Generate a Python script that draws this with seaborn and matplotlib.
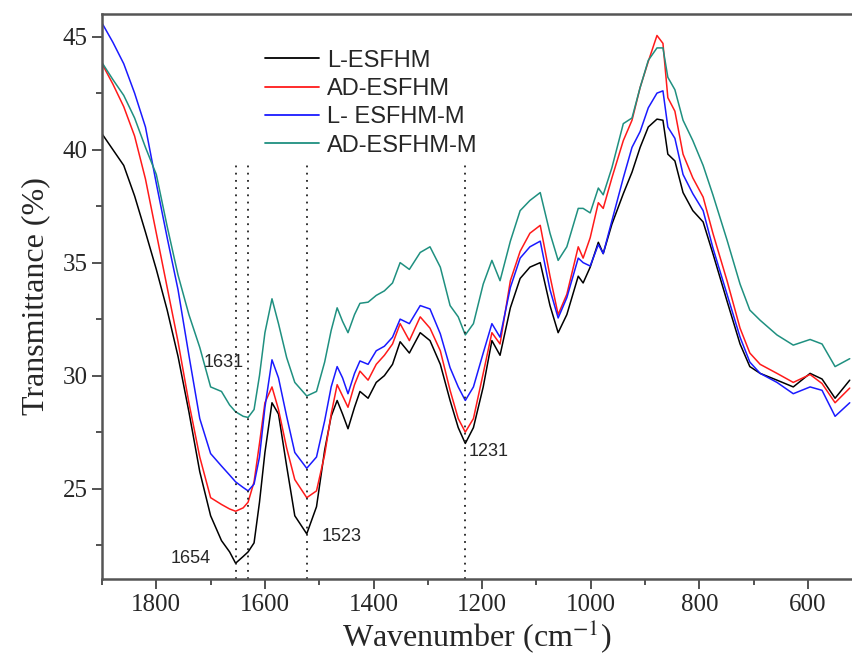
import numpy as np
import pandas as pd
import seaborn as sns
import matplotlib.pyplot as plt

# wavenumber grid (cm-1) shared by all spectra
wavenumber = [1900, 1880, 1860, 1840, 1820, 1800, 1780, 1760, 1740, 1720,
              1700, 1680, 1665, 1654, 1640, 1631, 1620, 1610, 1600, 1587,
              1575, 1560, 1545, 1523, 1505, 1490, 1478, 1467, 1457, 1447,
              1435, 1425, 1410, 1395, 1380, 1365, 1351, 1334, 1314, 1296,
              1277, 1259, 1244, 1231, 1216, 1198, 1182, 1167, 1148, 1130,
              1112, 1093, 1075, 1060, 1044, 1023, 1014, 1001, 986, 977,
              961, 940, 924, 909, 894, 878, 867, 858, 845, 830,
              812, 793, 775, 749, 725, 707, 688, 657, 627, 596,
              574, 550, 523]

l_esfhm = [40.7, 40.0, 39.3, 37.95, 36.35, 34.7, 32.9, 30.85, 28.4, 25.75,
           23.8, 22.7, 22.2, 21.7, 22.0, 22.2, 22.6, 24.4, 26.6, 28.8,
           28.3, 26.0, 23.8, 23.0, 24.2, 26.7, 28.2, 28.9, 28.3, 27.65,
           28.6, 29.3, 29.0, 29.7, 30.0, 30.5, 31.5, 31.0, 31.9, 31.55,
           30.5, 28.9, 27.7, 27.0, 27.7, 29.5, 31.55, 30.9, 33.0, 34.3,
           34.8, 35.0, 33.1, 31.9, 32.7, 34.4, 34.1, 34.8, 35.9, 35.4,
           36.7, 38.05, 39.0, 40.1, 41.0, 41.35, 41.3, 39.8, 39.5, 38.1,
           37.3, 36.8, 35.4, 33.3, 31.4, 30.4, 30.1, 29.8, 29.5, 30.1,
           29.85, 29.0, 29.8]

ad_esfhm = [43.8, 42.9, 41.9, 40.6, 38.7, 36.3, 33.9, 31.5, 28.8, 26.4,
            24.6, 24.3, 24.1, 24.0, 24.15, 24.4, 25.3, 27.0, 28.8, 29.5,
            28.5, 26.8, 25.4, 24.6, 24.9, 26.5, 28.3, 29.6, 29.1, 28.6,
            29.6, 30.2, 29.8, 30.5, 30.9, 31.4, 32.3, 31.55, 32.6, 32.1,
            31.1, 29.35, 28.1, 27.5, 28.1, 30.1, 31.9, 31.4, 34.2, 35.5,
            36.3, 36.65, 34.4, 32.7, 33.6, 35.7, 35.2, 36.1, 37.65, 37.4,
            38.75, 40.4, 41.3, 42.75, 43.9, 45.05, 44.7, 42.3, 41.7, 39.8,
            38.75, 37.9, 36.3, 34.2, 32.1, 31.0, 30.5, 30.1, 29.7, 30.05,
            29.65, 28.8, 29.45]

l_esfhm_m = [45.6, 44.75, 43.8, 42.5, 41.0, 38.5, 36.1, 33.8, 30.9, 28.1,
             26.55, 26.0, 25.6, 25.3, 25.05, 24.9, 25.2, 26.4, 28.6, 30.7,
             29.9, 28.2, 26.6, 25.9, 26.4, 28.0, 29.5, 30.4, 29.9, 29.2,
             30.1, 30.65, 30.5, 31.1, 31.3, 31.7, 32.5, 32.3, 33.1, 32.95,
             31.85, 30.35, 29.5, 28.9, 29.5, 31.0, 32.3, 31.7, 33.9, 35.2,
             35.7, 35.95, 33.8, 32.55, 33.45, 35.2, 35.0, 34.85, 35.8, 35.4,
             36.85, 38.75, 40.1, 40.8, 41.85, 42.5, 42.6, 41.0, 40.5, 38.9,
             38.05, 37.3, 35.65, 33.6, 31.7, 30.6, 30.1, 29.7, 29.2, 29.5,
             29.35, 28.2, 28.8]

ad_esfhm_m = [43.85, 43.1, 42.4, 41.4, 40.1, 38.9, 36.6, 34.45, 32.7, 31.25,
              29.5, 29.3, 28.7, 28.4, 28.2, 28.15, 28.5, 30.0, 31.9, 33.4,
              32.3, 30.8, 29.7, 29.1, 29.3, 30.6, 32.0, 33.0, 32.4, 31.9,
              32.7, 33.2, 33.25, 33.55, 33.75, 34.1, 35.0, 34.7, 35.45, 35.7,
              34.8, 33.1, 32.6, 31.8, 32.3, 34.05, 35.1, 34.2, 35.95, 37.3,
              37.75, 38.1, 36.3, 35.1, 35.7, 37.4, 37.4, 37.2, 38.3, 38.0,
              39.2, 41.15, 41.4, 42.75, 43.95, 44.5, 44.5, 43.2, 42.65, 41.3,
              40.4, 39.3, 38.0, 36.0, 34.05, 32.9, 32.45, 31.8, 31.35, 31.6,
              31.4, 30.4, 30.75]

samples = ['L-ESFHM', 'AD-ESFHM', 'L- ESFHM-M', 'AD-ESFHM-M']
colors = ['#000000', '#ff1a1a', '#1a1aff', '#1f9080']
peaks = [1654, 1631, 1523, 1231]

series = [l_esfhm, ad_esfhm, l_esfhm_m, ad_esfhm_m]
df = pd.concat([pd.DataFrame({'wavenumber': wavenumber, 'T': vals, 'sample': name})
                for name, vals in zip(samples, series)], ignore_index=True)

sns.set_style('ticks')
plt.rcParams['font.family'] = ['Liberation Serif', 'DejaVu Serif']
plt.rcParams['mathtext.fontset'] = 'stix'

fig = plt.figure(figsize=(8.53, 6.58), dpi=100)
ax = fig.add_axes([0.1196, 0.12, 0.8804, 0.8587])

sns.lineplot(data=df, x='wavenumber', y='T', hue='sample', hue_order=samples,
             palette=colors, estimator=None, sort=True, linewidth=1.1, ax=ax)

ax.vlines(peaks, 21, 39.3, colors='#222222', linestyles=(0, (1, 3)), linewidth=1.3)

sans = ['Liberation Sans', 'DejaVu Sans']
ax.text(1712, 30.6, '1631', fontsize=13, family=sans, ha='left', va='center')
ax.text(1774, 21.9, '1654', fontsize=13, family=sans, ha='left', va='center')
ax.text(1496, 22.9, '1523', fontsize=13, family=sans, ha='left', va='center')
ax.text(1224, 26.65, '1231', fontsize=13, family=sans, ha='left', va='center')

ax.set_xlim(1900, 517)
ax.set_ylim(21, 46)
ax.set_xticks([1800, 1600, 1400, 1200, 1000, 800, 600])
ax.set_xticks(np.arange(1900, 500, -100), minor=True)
ax.set_yticks([25, 30, 35, 40, 45])
ax.set_yticks(np.arange(22.5, 46, 2.5), minor=True)
ax.tick_params(which='major', direction='out', length=7, width=1.3, labelsize=18, color='#444444')
ax.tick_params(which='minor', direction='out', length=4, width=1.3, color='#444444')

for side in ['left', 'top', 'bottom']:
    ax.spines[side].set_color('#555555')
    ax.spines[side].set_linewidth(1.8)
ax.spines['right'].set_visible(False)

ax.set_xlabel('Wavenumber (cm$^{-1}$)', fontsize=23)
ax.xaxis.set_label_coords(0.499, -0.068)
ax.set_ylabel('Transmittance (%)', fontsize=23)
ax.yaxis.set_label_coords(-0.069, 0.5)

leg = ax.legend(loc='upper left', bbox_to_anchor=(0.201, 0.958), frameon=False,
                borderpad=0, handlelength=2.3, handletextpad=0.35, labelspacing=0.27,
                prop={'family': sans, 'size': 17})
for line in leg.get_lines():
    line.set_linewidth(1.3)

plt.savefig('out.png', dpi=100)
